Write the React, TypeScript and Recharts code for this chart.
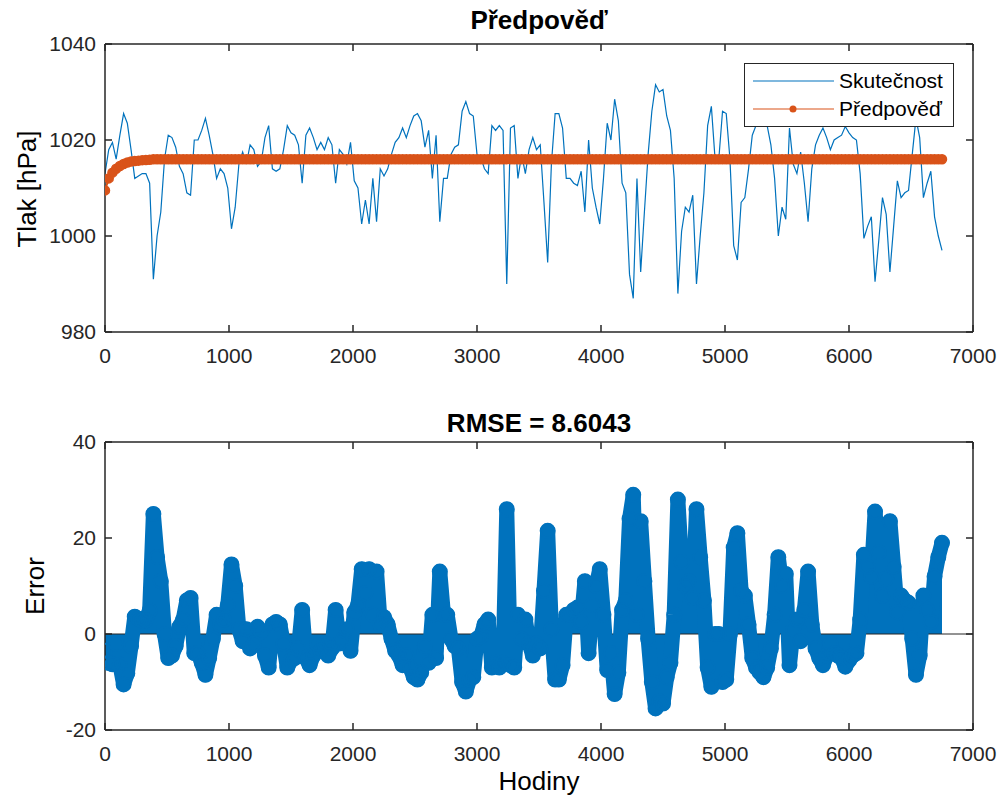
import { LineChart, ComposedChart, Line, Area, XAxis, YAxis, ReferenceLine } from 'recharts';

const HOUR_STEP = 30;
const ACTUAL = [
  1013, 1018, 1019.5, 1016, 1021, 1025.5, 1023.5, 1018, 1012, 1012.5,
  1013, 1013, 1011, 991, 1000, 1005, 1016, 1021, 1020.5, 1018.5,
  1014.5, 1013, 1009, 1008.5, 1020, 1020, 1022, 1024.5, 1021, 1017,
  1012, 1014, 1013, 1010, 1001.5, 1006, 1015, 1017.5, 1015, 1019,
  1018, 1014.5, 1015.5, 1020.5, 1023, 1014,
  1013.5, 1014, 1018, 1023, 1021.5, 1021, 1019, 1011, 1021, 1022.5,
  1020.5, 1018, 1019.5, 1018, 1020.5, 1019, 1011, 1018, 1017, 1015,
  1019.5, 1011.5, 1010, 1002.5, 1007.5, 1002.5, 1012, 1003, 1014, 1012.5,
  1014, 1017, 1019.5, 1020.5, 1022.5, 1020.5, 1023, 1025, 1025.5, 1024,
  1018.5, 1022, 1012, 1021, 1003,
  1012, 1012, 1017, 1018.5, 1019, 1026, 1028, 1025.5, 1025, 1017,
  1016.5, 1014, 1013, 1023, 1022, 1023, 1022, 990, 1022.5, 1023,
  1012, 1017, 1013, 1018, 1020.5, 1018, 1019, 1007, 994.5, 1015,
  1025.5, 1025.5, 1022.5, 1012, 1012, 1011, 1010.5, 1013.5, 1005, 1020,
  1010, 1006, 1002.5, 1012, 1023.5,
  1020, 1028.5, 1024, 1011, 1009, 992, 987, 1012, 992.5, 1005,
  1017, 1026, 1031.5, 1030, 1030.5, 1025, 1022, 1012, 988, 1001,
  1006, 1005, 1008.5, 990, 1000, 1009, 1023, 1027, 1016, 1016,
  1026, 1025.5, 1016, 998, 995, 1007, 1008, 1014, 1021, 1023,
  1024, 1025, 1023, 1019, 1012,
  1000, 1006, 1003.5, 1022.5, 1015, 1013, 1017.5, 1011, 1003, 1014,
  1019, 1021, 1022.5, 1020.5, 1018, 1020, 1020.5, 1021, 1022.8, 1021.5,
  1020.5, 1020, 1013, 999.5, 1002, 1004, 990.5, 999, 1008, 1004.5,
  992.5, 1002, 1011.5, 1008, 1009, 1009.5, 1017, 1024.5, 1020.5, 1008,
  1011, 1013.5, 1004, 1000, 997,
];
// forecast: short warm-up, then it settles on a flat level
const FORECAST_RAMP = [1009.5, 1012, 1013.2, 1014, 1014.6, 1015, 1015.3, 1015.5, 1015.6, 1015.7, 1015.8, 1015.85, 1015.9];
const FORECAST_LEVEL = 1016;

const X_TICKS = [0, 1000, 2000, 3000, 4000, 5000, 6000, 7000];
const P_TICKS = [980, 1000, 1020, 1040];
const E_TICKS = [-20, 0, 20, 40];
const RMSE_TEXT = 'RMSE = 8.6043';

const BLUE = '#0072BD';
const ORANGE = '#D95319';
const AX = '#262626';
const FONT = '"Liberation Sans", Arial, Helvetica, sans-serif';

const rows = ACTUAL.map((a, i) => {
  const f = i < FORECAST_RAMP.length ? FORECAST_RAMP[i] : FORECAST_LEVEL;
  return { h: i * HOUR_STEP, actual: a, forecast: f, err: +(f - a).toFixed(2) };
});

const tickStyle = { fill: AX, fontSize: 21, fontFamily: FONT };
const lineStyle = { stroke: AX, strokeWidth: 1.5 };
const blank = () => '';

// matlab-like box: bottom/left axes with labels, top/right axes with inward ticks only
function frameAxes(yDomain: number[], yTicks: number[]) {
  return [
    <XAxis key="xb" dataKey="h" type="number" domain={[0, 7000]} ticks={X_TICKS} interval={0} allowDataOverflow
      height={30} tickSize={-7} tickMargin={23} tick={tickStyle} axisLine={lineStyle} tickLine={lineStyle} />,
    <XAxis key="xt" xAxisId="top" orientation="top" dataKey="h" type="number" domain={[0, 7000]} ticks={X_TICKS}
      interval={0} allowDataOverflow height={1} tickSize={-7} tickFormatter={blank} axisLine={lineStyle} tickLine={lineStyle} />,
    <YAxis key="yl" type="number" domain={yDomain} ticks={yTicks} interval={0} allowDataOverflow width={60}
      tickSize={-7} tickMargin={16} tick={tickStyle} axisLine={lineStyle} tickLine={lineStyle} />,
    <YAxis key="yr" yAxisId="r" orientation="right" type="number" domain={yDomain} ticks={yTicks} interval={0}
      allowDataOverflow width={1} tickSize={-7} tickFormatter={blank} axisLine={lineStyle} tickLine={lineStyle} />,
  ];
}

function Legend() {
  return (
    <div
      style={{
        position: 'absolute', left: 744, top: 63, width: 208, height: 62,
        background: '#fff', border: `1px solid ${AX}`, fontFamily: FONT, fontSize: 21, color: '#000',
      }}
    >
      <svg width={90} height={62} style={{ position: 'absolute', left: 0, top: 0 }}>
        <line x1={8} x2={89} y1={17} y2={17} stroke={BLUE} strokeWidth={1.2} />
        <line x1={8} x2={89} y1={45} y2={45} stroke={ORANGE} strokeWidth={1.2} />
        <circle cx={48} cy={45} r={3.5} fill={ORANGE} />
      </svg>
      <div style={{ position: 'absolute', left: 94, top: 5, lineHeight: '24px' }}>Skutečnost</div>
      <div style={{ position: 'absolute', left: 94, top: 33, lineHeight: '24px' }}>Předpověď</div>
    </div>
  );
}

const textBase = { position: 'absolute' as const, fontFamily: FONT, color: '#000', lineHeight: '26px', whiteSpace: 'nowrap' as const };

export default function App() {
  return (
    <div style={{ position: 'absolute', left: 0, top: 0, width: 1003, height: 801, background: '#fff' }}>
      <div style={{ position: 'absolute', left: 0, top: 0 }}>
        <LineChart width={1003} height={380} data={rows} margin={{ top: 43, right: 29, bottom: 18, left: 45 }}>
          {frameAxes([980, 1040], P_TICKS)}
          <Line xAxisId="top" yAxisId="r" dataKey="actual" stroke="none" dot={false} activeDot={false}
            isAnimationActive={false} />
          <Line dataKey="actual" stroke={BLUE} strokeWidth={1.2} dot={false} isAnimationActive={false} />
          <Line dataKey="forecast" stroke={ORANGE} strokeWidth={2}
            dot={{ r: 4.5, fill: ORANGE, stroke: ORANGE, strokeWidth: 1.5 }} isAnimationActive={false} />
        </LineChart>
      </div>

      <div style={{ position: 'absolute', left: 0, top: 400 }}>
        <ComposedChart width={1003} height={400} data={rows} margin={{ top: 41, right: 29, bottom: 40, left: 45 }}>
          {frameAxes([-20, 40], E_TICKS)}
          <Line xAxisId="top" yAxisId="r" dataKey="err" stroke="none" dot={false} activeDot={false}
            isAnimationActive={false} />
          <ReferenceLine y={0} stroke={AX} strokeWidth={1} />
          {/* dense stems from the zero baseline */}
          <Area dataKey="err" type="linear" baseValue={0} fill={BLUE} fillOpacity={1} stroke="none"
            dot={false} activeDot={false} isAnimationActive={false} />
          {/* thick trace stands in for the overlapping circle markers */}
          <Line dataKey="err" stroke={BLUE} strokeWidth={15} strokeLinejoin="round" strokeLinecap="round"
            dot={false} activeDot={false} isAnimationActive={false} />
          <Line dataKey="err" stroke="none" dot={{ r: 7, stroke: BLUE, strokeWidth: 2, fill: 'none' }}
            activeDot={false} isAnimationActive={false} />
        </ComposedChart>
      </div>

      <Legend />

      <div style={{ ...textBase, left: 105, width: 868, top: 7, textAlign: 'center', fontSize: 26, fontWeight: 'bold' }}>
        Předpověď
      </div>
      <div style={{ ...textBase, left: 105, width: 868, top: 410, textAlign: 'center', fontSize: 26, fontWeight: 'bold' }}>
        {RMSE_TEXT}
      </div>
      <div style={{ ...textBase, left: 105, width: 868, top: 768, textAlign: 'center', fontSize: 26 }}>
        Hodiny
      </div>
      <div style={{ ...textBase, left: 27, top: 189, fontSize: 26, transform: 'translate(-50%, -50%) rotate(-90deg)' }}>
        Tlak [hPa]
      </div>
      <div style={{ ...textBase, left: 35, top: 586, fontSize: 26, transform: 'translate(-50%, -50%) rotate(-90deg)' }}>
        Error
      </div>
    </div>
  );
}
